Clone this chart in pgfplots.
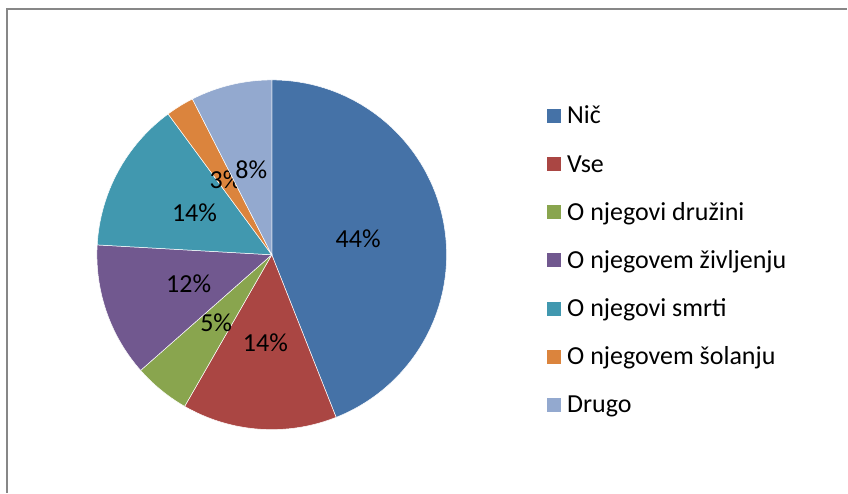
\documentclass[border=0pt]{standalone}
\usepackage{pgfplots}
\pgfplotsset{compat=1.18}
\usepackage{pgfplotstable}
\usepackage{fontspec}
\setmainfont{Carlito}
\definecolor{c1}{HTML}{4572A7}
\definecolor{c2}{HTML}{AA4643}
\definecolor{c3}{HTML}{89A54E}
\definecolor{c4}{HTML}{71588F}
\definecolor{c5}{HTML}{4198AF}
\definecolor{c6}{HTML}{DB843D}
\definecolor{c7}{HTML}{93A9CF}
\definecolor{framegray}{HTML}{878787}
\pgfplotstableread[col sep=comma]{
name,value,col
Nič,44.0,c1
Vse,14.3,c2
O njegovi družini,5.2,c3
O njegovem življenju,12.4,c4
O njegovi smrti,14.0,c5
O njegovem šolanju,2.6,c6
Drugo,7.5,c7
}\piedata
\begin{document}
\begin{tikzpicture}
\begin{axis}[
  width=848pt, height=493pt, scale only axis,
  xmin=0, xmax=848, ymin=0, ymax=493,
  hide axis, clip=false,
]
\path (axis cs:0,0) rectangle (axis cs:848,493);
\draw[framegray, line width=1.5pt] (axis cs:7,0) -- (axis cs:7,484) -- (axis cs:848,484);
\pgfplotstablegetrowsof{\piedata}
\pgfmathtruncatemacro\nrows{\pgfplotsretval-1}
\def\cum{0}
\pgfplotsforeachungrouped \i in {0,...,\nrows} {
  \pgfplotstablegetelem{\i}{value}\of\piedata \let\v\pgfplotsretval
  \pgfplotstablegetelem{\i}{col}\of\piedata \let\c\pgfplotsretval
  \pgfplotstablegetelem{\i}{name}\of\piedata \let\n\pgfplotsretval
  \pgfmathsetmacro\a{90-3.6*\cum}
  \pgfmathsetmacro\b{90-3.6*(\cum+\v)}
  \pgfmathsetmacro\m{(\a+\b)/2}
  \pgfmathtruncatemacro\p{round(\v)}
  \pgfmathsetmacro\ly{493-116-48.2*\i}
  \pgfmathsetmacro\sqa{\ly-7}
  \pgfmathsetmacro\sqb{\ly+7}
  \pgfmathsetmacro\tb{\ly-8}
  \edef\cmd{%
    \noexpand\fill[\c, draw=white, line width=0.5pt] (axis cs:272,238) -- ([shift={(\a:175pt)}]axis cs:272,238) arc[start angle=\a, end angle=\b, radius=175pt] -- cycle;
    \noexpand\node[font=\noexpand\fontsize{26}{30}\noexpand\selectfont, text=black, inner sep=0pt] at ([shift={(\m:88pt)}]axis cs:272,238) {\p\%};
    \noexpand\fill[\c] (axis cs:547,\sqa) rectangle (axis cs:561.5,\sqb);
    \noexpand\node[font=\noexpand\fontsize{26}{30}\noexpand\selectfont, anchor=base west, inner sep=0pt] at (axis cs:567.5,\tb) {\n};
  }
  \cmd
  \pgfmathsetmacro\cum{\cum+\v}
  \global\let\cum\cum
}
\end{axis}
\end{tikzpicture}
\end{document}
